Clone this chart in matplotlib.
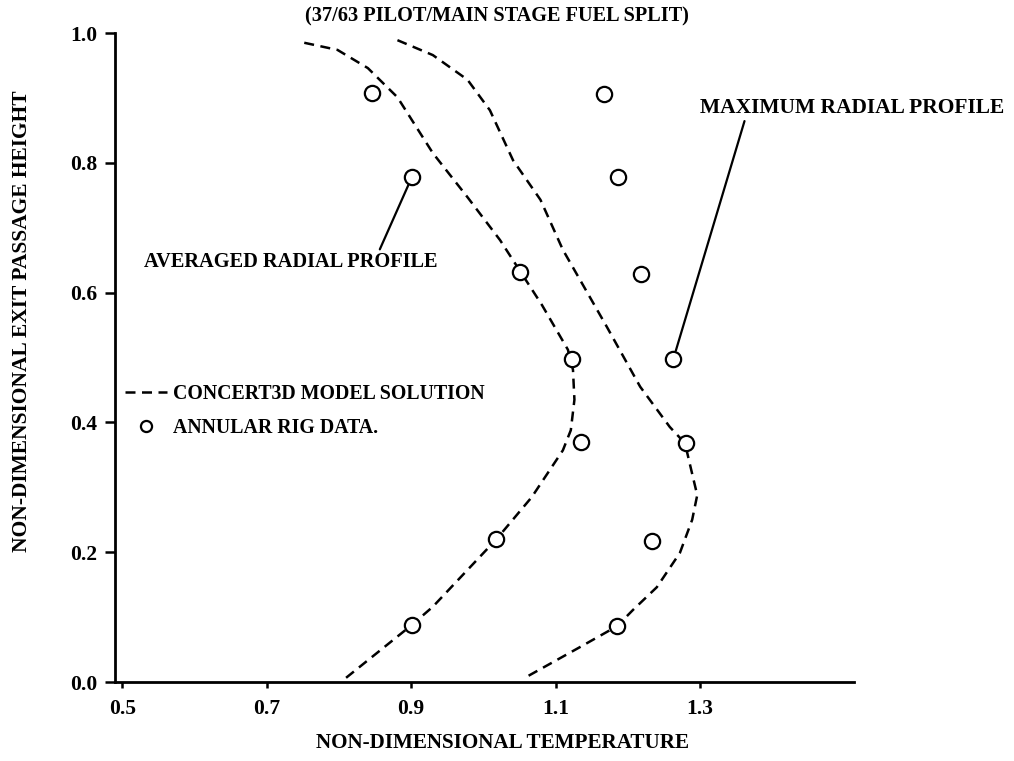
import matplotlib
matplotlib.use("Agg")
import matplotlib.pyplot as plt
from matplotlib.lines import Line2D

plt.rcParams['font.family'] = ['Liberation Serif', 'DejaVu Serif']
plt.rcParams['font.weight'] = 'bold'
plt.rcParams['axes.labelweight'] = 'bold'

# annular rig data (circles)
avg_rig_t = [0.846, 0.901, 1.051, 1.123, 1.135, 1.018, 0.901]
avg_rig_h = [0.907, 0.778, 0.632, 0.498, 0.370, 0.220, 0.088]
max_rig_t = [1.167, 1.187, 1.218, 1.263, 1.281, 1.234, 1.185]
max_rig_h = [0.906, 0.778, 0.629, 0.498, 0.368, 0.217, 0.086]

# CONCERT3D model solution (dashed)
avg_model_t = [0.752, 0.798, 0.840, 0.881, 0.930, 0.978, 1.023, 1.081, 1.117,
               1.124, 1.126, 1.121, 1.110, 1.067, 1.018, 0.930, 0.901, 0.806]
avg_model_h = [0.985, 0.974, 0.946, 0.901, 0.815, 0.747, 0.681, 0.581, 0.512,
               0.481, 0.435, 0.388, 0.357, 0.285, 0.220, 0.116, 0.088, 0.003]
max_model_t = [0.881, 0.930, 0.978, 1.009, 1.041, 1.079, 1.110, 1.171, 1.217,
               1.258, 1.279, 1.290, 1.296, 1.289, 1.272, 1.240, 1.207, 1.185,
               1.134, 1.055]
max_model_h = [0.989, 0.966, 0.928, 0.881, 0.804, 0.743, 0.666, 0.547, 0.455,
               0.393, 0.368, 0.316, 0.288, 0.250, 0.199, 0.146, 0.111, 0.086,
               0.054, 0.005]

xticks = [0.5, 0.7, 0.9, 1.1, 1.3]
yticks = [0.0, 0.2, 0.4, 0.6, 0.8, 1.0]

fig = plt.figure(figsize=(10.14, 7.61), dpi=100)
ax = fig.add_axes([0.1134, 0.1038, 0.7288, 0.8528])

dash_style = dict(color='black', lw=1.8, dashes=(4, 2.6))
ax.plot(avg_model_t, avg_model_h, **dash_style)
ax.plot(max_model_t, max_model_h, **dash_style)
circ = dict(ls='none', marker='o', ms=11, mfc='white', mec='black', mew=1.6)
ax.plot(avg_rig_t, avg_rig_h, **circ)
ax.plot(max_rig_t, max_rig_h, **circ)

ax.set_xlim(0.49, 1.513)
ax.set_ylim(0.0, 1.0)
ax.set_xticks(xticks)
ax.set_xticklabels(['%.1f' % v for v in xticks])
ax.set_yticks(yticks)
ax.set_yticklabels(['%.1f' % v for v in yticks])
for s in ['top', 'right']:
    ax.spines[s].set_visible(False)
for s in ['left', 'bottom']:
    ax.spines[s].set_linewidth(2)
ax.tick_params(axis='y', direction='out', length=7, width=1.8, pad=6, labelsize=15.5)
ax.tick_params(axis='x', direction='out', length=4, width=1.8, pad=8, labelsize=15.5)

ax.set_xlabel('NON-DIMENSIONAL TEMPERATURE', fontsize=15.2)
ax.xaxis.set_label_coords(0.525, -0.079)
ax.set_ylabel('NON-DIMENSIONAL EXIT PASSAGE HEIGHT', fontsize=15.5)
ax.yaxis.set_label_coords(-0.112, 0.556)

ax.text(0.517, 1.026, '(37/63 PILOT/MAIN STAGE FUEL SPLIT)', transform=ax.transAxes,
        ha='center', va='center', fontsize=14.6)

ax.annotate('AVERAGED RADIAL PROFILE', xy=(avg_rig_t[1], avg_rig_h[1]),
            xytext=(0.733, 0.647), ha='center', va='center', fontsize=14.7,
            arrowprops=dict(arrowstyle='-', color='black', lw=1.6,
                            relpos=(0.8, 1.0), shrinkA=0, shrinkB=6))
ax.annotate('MAXIMUM RADIAL PROFILE', xy=(max_rig_t[3], max_rig_h[3]),
            xytext=(1.510, 0.884), ha='center', va='center', fontsize=15.5,
            annotation_clip=False,
            arrowprops=dict(arrowstyle='-', color='black', lw=1.6,
                            relpos=(0.15, 0.0), shrinkA=0, shrinkB=6))

handles = [Line2D([], [], **dash_style),
           Line2D([], [], ls='none', marker='o', ms=8, mfc='white',
                  mec='black', mew=1.6)]
ax.legend(handles, ['CONCERT3D MODEL SOLUTION', 'ANNULAR RIG DATA.'],
          loc='center left', bbox_to_anchor=(-0.005, 0.418), frameon=False,
          fontsize=14.3, handlelength=2.1, handletextpad=0.3, labelspacing=0.7,
          borderaxespad=0.3)

fig.savefig('out.png', dpi=100)
